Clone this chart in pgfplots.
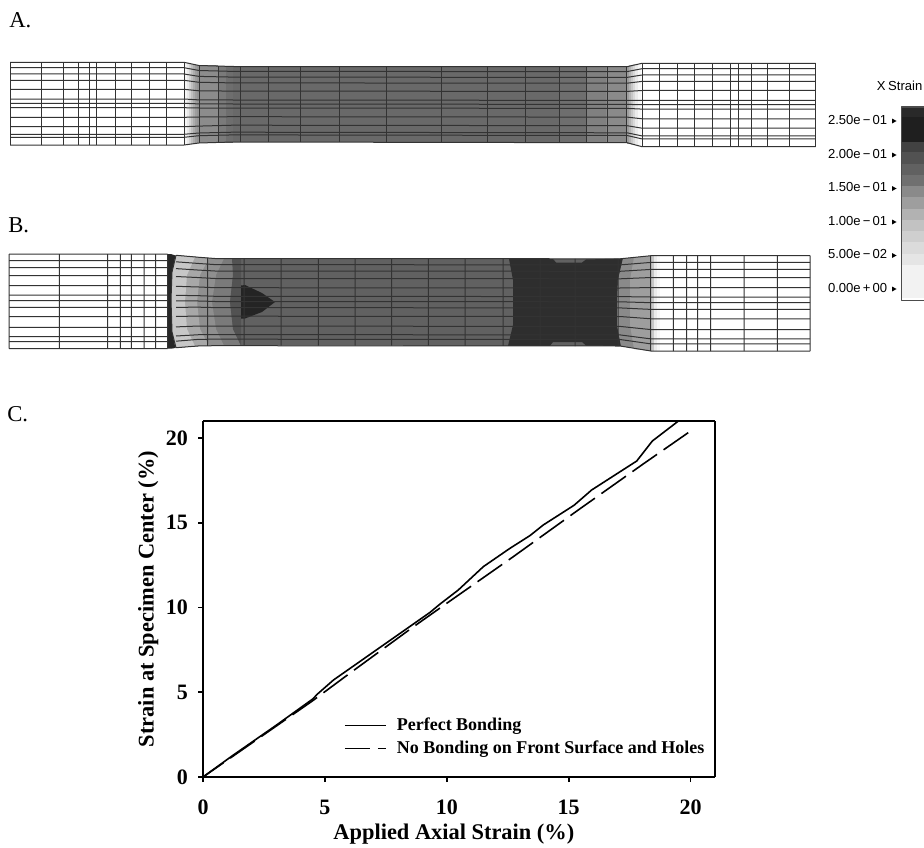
\documentclass[border=0pt]{standalone}
\usepackage{pgfplots}
\pgfplotsset{compat=1.18}
\usepackage{fontspec}
\setmainfont{Liberation Serif}
\newfontfamily\lsans{Liberation Sans}
% filled polygon in pixel coordinates, colour = percentage of black
\newcommand\Pg[2]{\addplot[draw=none,fill=black!#1] coordinates {#2};}
\newcommand\Rc[5]{\addplot[draw=none,fill=black!#5] coordinates {(#1,#3)(#2,#3)(#2,#4)(#1,#4)} -- cycle;}
\newcommand\CBL[2]{\node[anchor=east,inner sep=0pt,font=\lsans\fontsize{9.8}{10}\selectfont] at (axis cs:887.5,#1) {#2};}
\begin{document}
\begin{tikzpicture}
\useasboundingbox (0,0) rectangle (693pt,635.25pt);
\begin{axis}[at={(0pt,0pt)},anchor=south west,width=693pt,height=635.25pt,scale only axis,
  hide axis,xmin=0,xmax=924,ymin=0,ymax=847,y dir=reverse,clip=true,
  mesh/.style={draw=black!80,line width=0.75pt,unbounded coords=jump},
  every axis plot/.append style={line join=round}]

% ---------- Panel A fills
\Rc{185}{187}{63}{144.7}{4}
\Rc{187}{189}{63.5}{144.5}{9}
\Rc{189}{191}{64}{144}{17}
\Rc{191}{193}{64.3}{143.8}{25}
\Rc{193}{195}{64.7}{143.5}{32}
\Rc{195}{197}{65}{143.2}{38}
\Rc{197}{199}{65.3}{143}{42}
\Rc{199}{218}{65.5}{143}{45}
\Rc{218}{226}{66}{142.5}{52}
\Rc{226}{233}{66}{142.5}{57}
\Rc{233}{560}{66.5}{142.3}{59}
\Rc{560}{587}{66.5}{142.5}{57}
\Rc{587}{606}{66.5}{142.7}{50}
\Rc{606}{627}{66.5}{142.7}{46}
\Rc{627}{629}{66}{143.5}{38}
\Rc{629}{631}{65.5}{144}{30}
\Rc{631}{633}{65}{144.5}{22}
\Rc{633}{635}{64.5}{145}{15}
\Rc{635}{638}{64}{145.5}{8}
\Rc{638}{641}{63.7}{146}{3}

% ---------- Panel B fills
\Pg{62}{(176,255.3)(200,257.3)(215,258.5)(620,259)(623,258.5)(651,255.7)(651,351)(620,345.8)(215,345.7)(200,345.9)(176,347.7)}
\Pg{52}{(176,255.3)(200,257.3)(215,258.5)(241,258.5)(233,275)(230,302)(233,329)(241,345.7)(215,345.7)(200,345.9)(176,347.7)}
\Pg{44}{(176,255.3)(200,257.3)(215,258.5)(224,258.5)(216,275)(212,302)(216,329)(224,345.7)(215,345.7)(200,345.9)(176,347.7)}
\Pg{34}{(176,255.3)(200,257.3)(209,258.2)(200,275)(197,302)(200,329)(209,345.8)(200,345.9)(176,347.7)}
\Pg{22}{(174,255.3)(195,257)(187,275)(185,302)(187,329)(195,346.2)(174,347.7)(171,332)(170,300)(171,272)}
\Pg{68}{(232,258.5)(241,258.5)(241,345.7)(233,329)(230,302)(233,275)}
\Pg{86}{(241,285.5)(245,285)(262,293)(275,302)(262,312)(245,318.5)(241,318.5)}
% dark central zone
\Pg{82}{(509,259)(553,259)(556,262.5)(582,262.5)(586,259.5)(623,258.5)(618,280)(617,302)(617,325)(621,346)(586,345.5)(582,342)(553,342)(550,345.8)(508,345.8)(513,325)(513,280)}
% right shoulder lobes
\Pg{46}{(623,258.5)(651,255.7)(651,351)(621,346)(617,325)(617,302)(618,280)}
\Pg{38}{(634,257.5)(651,255.7)(651,351)(634,349)(630,325)(630,280)}
% fade of the shoulder into the grip
\Rc{651}{654}{255.7}{351}{22}
\Rc{654}{657}{255.7}{351}{8}
\Rc{657}{660}{255.7}{351}{3}
% debonded notch
\Pg{85}{(168,254)(171,254)(175.5,255.5)(172,272)(171,300)(172,332)(175.5,348)(171,348.7)(168,348.7)}

% ---------- Panel A mesh
\addplot[mesh] coordinates {
(10,62.3)(184,62.3)(199,65.5)(233,66.5)(627,66.7)(642,63.3)(815.7,63.3)(nan,nan)
(10,67.7)(184,67.7)(199,70.5)(233,71.4)(627,71.6)(642,68.7)(815.7,68.7)(nan,nan)
(10,74)(184,74)(199,76.4)(233,77.1)(627,77.4)(642,75)(815.7,75)(nan,nan)
(10,80.3)(184,80.3)(199,82.3)(233,82.9)(627,83.2)(642,81.4)(815.7,81.4)(nan,nan)
(10,89.3)(184,89.3)(199,90.8)(233,91.1)(627,91.4)(642,90.5)(815.7,90.5)(nan,nan)
(10,99)(184,99)(199,99.9)(233,100)(627,100.4)(642,100.3)(815.7,100.3)(nan,nan)
(10,103.3)(184,103.3)(199,103.9)(233,104)(627,104.4)(642,104.7)(815.7,104.7)(nan,nan)
(10,107.7)(184,107.7)(199,108)(233,108)(627,108.4)(642,109.1)(815.7,109.1)(nan,nan)
(10,117.3)(184,117.3)(199,117)(233,116.7)(627,117.1)(642,118.8)(815.7,118.8)(nan,nan)
(10,126.7)(184,126.7)(199,126.1)(233,125.2)(627,125.7)(642,128.2)(815.7,128.2)(nan,nan)
(10,134.3)(184,134.3)(199,133)(233,132.2)(627,132.8)(642,135.9)(815.7,135.9)(nan,nan)
(10,137.3)(184,137.3)(199,135.7)(233,134.9)(627,135.5)(642,138.9)(815.7,138.9)(nan,nan)
(10,145)(184,145)(199,143)(233,142)(627,142.7)(642,146.7)(815.7,146.7)
};
\addplot[mesh] coordinates {
(10,62.3)(10,145)(nan,nan)(41.7,62.3)(41.7,145)(nan,nan)(63.3,62.3)(63.3,145)(nan,nan)
(78.3,62.3)(78.3,145)(nan,nan)(89,62.3)(89,145)(nan,nan)(96.7,62.3)(96.7,145)(nan,nan)
(115,62.3)(115,145)(nan,nan)(131.7,62.3)(131.7,145)(nan,nan)(149,62.3)(149,145)(nan,nan)
(166.7,62.3)(166.7,145)(nan,nan)(184,62.3)(184,145)(nan,nan)(199,65.5)(199,143)(nan,nan)
(218.3,66)(218.3,142.5)(nan,nan)(240.7,66.5)(240.7,142)(nan,nan)(268.3,66.5)(268.3,142)(nan,nan)
(300,66.5)(300,142)(nan,nan)(339,66.5)(339,142)(nan,nan)(386.7,66.5)(386.7,142)(nan,nan)
(441.7,66.5)(441.7,142.3)(nan,nan)(487.7,66.5)(487.7,142.3)(nan,nan)(525.7,66.5)(525.7,142.5)(nan,nan)
(559,66.5)(559,142.5)(nan,nan)(586,66.5)(586,142.5)(nan,nan)(607.7,66.5)(607.7,142.7)(nan,nan)
(626.7,66.7)(626.7,142.7)(nan,nan)(642.3,63.3)(642.3,146.7)(nan,nan)(659,63.3)(659,146.7)(nan,nan)
(677.3,63.3)(677.3,146.7)(nan,nan)(694.3,63.3)(694.3,146.7)(nan,nan)(712.3,63.3)(712.3,146.7)(nan,nan)
(730,63.3)(730,146.7)(nan,nan)(738.7,63.3)(738.7,146.7)(nan,nan)(751.7,63.3)(751.7,146.7)(nan,nan)
(767.3,63.3)(767.3,146.7)(nan,nan)(789.3,63.3)(789.3,146.7)(nan,nan)(815.7,63.3)(815.7,146.7)
};

% ---------- Panel B mesh
\addplot[mesh] coordinates {
(9,254)(167.7,254)(nan,nan)(176,255.3)(199,257.3)(215,258.5)(620,258.8)(651,255.7)(810,255.7)(nan,nan)
(9,260.7)(167.7,260.7)(nan,nan)(176,261.8)(199,263.5)(215,264.6)(620,264.9)(651,262.4)(810,262.4)(nan,nan)
(9,267.7)(167.7,267.7)(nan,nan)(176,268.6)(199,270.1)(215,271)(620,271.3)(651,269.4)(810,269.4)(nan,nan)
(9,275.7)(167.7,275.7)(nan,nan)(176,276.5)(199,277.6)(215,278.5)(620,278.8)(651,277.5)(810,277.5)(nan,nan)
(9,285.7)(167.7,285.7)(nan,nan)(176,286.3)(199,287)(215,287.7)(620,288)(651,287.6)(810,287.6)(nan,nan)
(9,295)(167.7,295)(nan,nan)(176,295.3)(199,295.7)(215,296.3)(620,296.6)(651,297)(810,297)(nan,nan)
(9,300.7)(167.7,300.7)(nan,nan)(176,300.9)(199,301)(215,301.5)(620,301.8)(651,302.7)(810,302.7)(nan,nan)
(9,307.3)(167.7,307.3)(nan,nan)(176,307.3)(199,307.2)(215,307.6)(620,307.9)(651,309.4)(810,309.4)(nan,nan)
(9,316.7)(167.7,316.7)(nan,nan)(176,316.5)(199,316)(215,316.2)(620,316.5)(651,318.8)(810,318.8)(nan,nan)
(9,327.3)(167.7,327.3)(nan,nan)(176,326.9)(199,326)(215,326.1)(620,326.4)(651,329.6)(810,329.6)(nan,nan)
(9,336.7)(167.7,336.7)(nan,nan)(176,336)(199,334.7)(215,334.6)(620,334.9)(651,338.9)(810,338.9)(nan,nan)
(9,341.7)(167.7,341.7)(nan,nan)(176,341.2)(199,339.3)(215,339.2)(620,339.5)(651,343.9)(810,343.9)(nan,nan)
(9,348.7)(167.7,348.7)(nan,nan)(176,347.7)(199,345.9)(215,345.7)(620,346)(651,351)(810,351)
};
\addplot[mesh] coordinates {
(9,254)(9,348.7)(nan,nan)(59.3,254)(59.3,348.7)(nan,nan)(107.7,254)(107.7,348.7)(nan,nan)
(120.3,254)(120.3,348.7)(nan,nan)(131.3,254)(131.3,348.7)(nan,nan)(144,254)(144,348.7)(nan,nan)
(155.7,254)(155.7,348.7)(nan,nan)(167.7,254)(167.7,348.7)(nan,nan)
(176,255.3)(172,272)(171,300)(172,332)(176,347.7)(nan,nan)
(207.7,258)(207.7,345.8)(nan,nan)(244,258.5)(244,345.7)(nan,nan)(281,258.5)(281,345.7)(nan,nan)
(318.3,258.5)(318.3,345.7)(nan,nan)(355,258.5)(355,345.7)(nan,nan)(391.7,258.5)(391.7,345.7)(nan,nan)
(428.3,258.5)(428.3,345.7)(nan,nan)(465,258.6)(465,345.8)(nan,nan)(503,258.7)(503,345.9)(nan,nan)
(540,258.7)(540,345.9)(nan,nan)(575,258.8)(575,346)(nan,nan)(618,258.8)(618,346)(nan,nan)
(650.7,255.7)(650.7,351)(nan,nan)(673.3,255.7)(673.3,351)(nan,nan)(686.7,255.7)(686.7,351)(nan,nan)
(697.7,255.7)(697.7,351)(nan,nan)(710.7,255.7)(710.7,351)(nan,nan)(744,255.7)(744,351)(nan,nan)
(777.3,255.7)(777.3,351)(nan,nan)(810,255.7)(810,351)
};

% ---------- Colour bar
\Rc{901}{930}{107}{117}{84}
\Rc{901}{930}{117}{142}{88}
\Rc{901}{930}{142}{152}{74}
\Rc{901}{930}{152}{164}{68}
\Rc{901}{930}{164}{175}{62}
\Rc{901}{930}{175}{186}{56}
\Rc{901}{930}{186}{197}{46}
\Rc{901}{930}{197}{209}{38}
\Rc{901}{930}{209}{220}{30}
\Rc{901}{930}{220}{231}{24}
\Rc{901}{930}{231}{242}{19}
\Rc{901}{930}{242}{254}{14}
\Rc{901}{930}{254}{265}{10}
\Rc{901}{930}{265}{298}{5}
\addplot[draw=black!70,line width=1.3pt] coordinates {(930,107)(901.5,107)(901.5,300.5)(930,300.5)};
\addplot[draw=none,fill=black] coordinates {(892,118.5)(896.5,121)(892,123.5)};
\addplot[draw=none,fill=black] coordinates {(892,152.5)(896.5,155)(892,157.5)};
\addplot[draw=none,fill=black] coordinates {(892,186)(896.5,188.5)(892,191)};
\addplot[draw=none,fill=black] coordinates {(892,219.5)(896.5,222)(892,224.5)};
\addplot[draw=none,fill=black] coordinates {(892,253)(896.5,255.5)(892,258)};
\addplot[draw=none,fill=black] coordinates {(892,286.5)(896.5,289)(892,291.5)};
\CBL{120}{2.50e\,−\,01}
\CBL{154}{2.00e\,−\,01}
\CBL{187.5}{1.50e\,−\,01}
\CBL{221}{1.00e\,−\,01}
\CBL{254.5}{5.00e\,−\,02}
\CBL{288}{0.00e\,+\,00}
\node[anchor=west,inner sep=0pt,font=\lsans\fontsize{9.8}{10}\selectfont] at (axis cs:876.5,86) {X\hspace{2pt}Strain};

\node[anchor=base west,inner sep=0pt,font=\fontsize{17}{17}\selectfont] at (axis cs:9,28) {A.};
\node[anchor=base west,inner sep=0pt,font=\fontsize{17}{17}\selectfont] at (axis cs:8,232) {B.};
\node[anchor=base west,inner sep=0pt,font=\fontsize{17}{17}\selectfont] at (axis cs:7,421) {C.};
\end{axis}

\begin{axis}[at={(152.25pt,52.5pt)},anchor=south west,width=384pt,height=267pt,scale only axis,
  xmin=0,xmax=21,ymin=0,ymax=21,
  axis line style={line width=1.7pt},
  axis x line*=bottom,axis y line*=left,
  tick style={black,line width=1.2pt},
  tick align=outside,major tick length=3.75pt,
  xtick={0,5,10,15,20},ytick={0,5,10,15,20},
  /pgf/number format/assume math mode=true,
  tick label style={font=\bfseries\fontsize{16.5}{17}\selectfont},
  xticklabel style={yshift=-10pt},
  yticklabel style={xshift=-4pt},
  xlabel={Applied Axial Strain (\%)},ylabel={Strain at Specimen Center (\%)},
  every axis x label/.style={at={(axis description cs:0.49,-0.16)},anchor=center,font=\bfseries\fontsize{16.8}{17}\selectfont},
  every axis y label/.style={at={(axis description cs:-0.107,0.5)},rotate=90,anchor=center,font=\bfseries\fontsize{16.8}{17}\selectfont},
  legend style={at={(axis cs:5.78,3.64)},anchor=north west,draw=none,fill=none,inner sep=0pt,
    font=\bfseries\fontsize{13.5}{13.7}\selectfont,cells={anchor=west},
    /tikz/row sep=2.2pt,/tikz/column sep=5.5pt},
  legend image code/.code={\draw[#1] (0cm,0cm) -- (30.75pt,0cm);},
  clip=true]
\addplot[black,line width=1.2pt] coordinates {
(0,0)(1.2,1.25)(3,3.05)(4.5,4.6)(4.7,4.9)(5.35,5.72)(9.31,9.71)(9.72,10.2)(10.47,11.03)(11.5,12.41)(12.59,13.49)(13.41,14.24)(13.96,14.87)(15.22,16.03)(15.94,16.93)(17.79,18.64)(18.43,19.82)(19.5,21)};
\addplot[black,line width=1.2pt,dash pattern=on 22.5pt off 6pt,dash phase=3.75pt] coordinates {
(0,0)(4.5,4.5)(6.03,6.13)(8.62,8.85)(10,10.25)(12.73,13)(15.39,15.75)(18.06,18.47)(20,20.41)};
\legend{Perfect Bonding,No Bonding on Front Surface and Holes}
\end{axis}
\begin{axis}[at={(152.25pt,52.5pt)},anchor=south west,width=384pt,height=267pt,scale only axis,
  xmin=0,xmax=21,ymin=0,ymax=21,axis x line*=top,axis y line*=right,
  axis line style={line width=1.7pt},xtick=\empty,ytick=\empty]
\end{axis}
\end{tikzpicture}
\end{document}
